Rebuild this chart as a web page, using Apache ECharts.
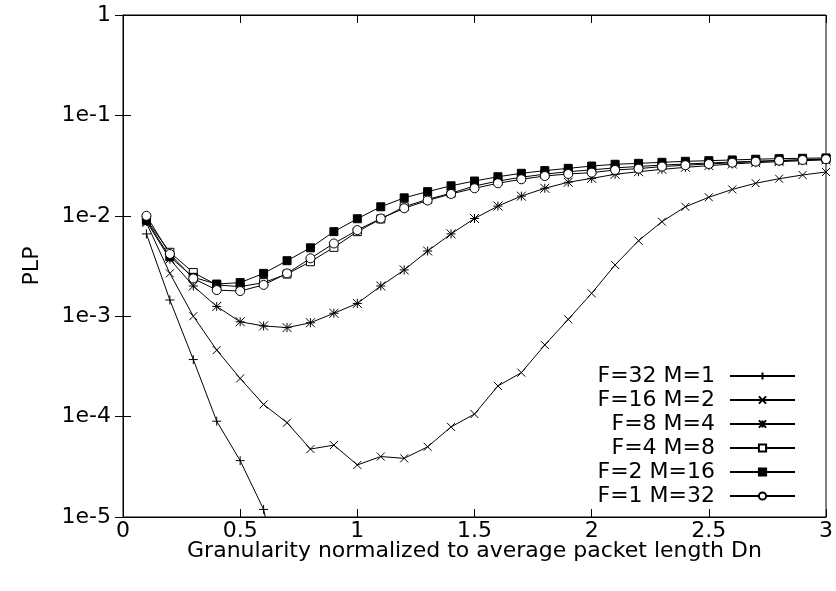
<!DOCTYPE html>
<html>
<head>
<meta charset="utf-8">
<script src="https://cdn.jsdelivr.net/npm/echarts@6/dist/echarts.min.js"></script>
<style>
html,body{margin:0;padding:0;background:#fff;}
#chart{width:836px;height:591px;}
</style>
</head>
<body>
<div id="chart"></div>
<script>
const xs = [0.1,0.2,0.3,0.4,0.5,0.6,0.7,0.8,0.9,1.0,1.1,1.2,1.3,1.4,1.5,1.6,1.7,1.8,1.9,2.0,2.1,2.2,2.3,2.4,2.5,2.6,2.7,2.8,2.9,3.0];
const seriesNames = ['F=32 M=1','F=16 M=2','F=8 M=4','F=4 M=8','F=2 M=16','F=1 M=32'];
const f32m1 = [0.0066,0.00145,0.00037,0.00009,0.0000364,0.0000119,0.000001];
const f16m2 = [0.0085,0.00267,0.00100,0.00046,0.00024,0.000132,0.000087,0.0000475,0.000052,0.000033,0.000040,0.0000384,0.000050,0.000079,0.000106,0.000202,0.000274,0.000517,0.00093,0.00169,0.00324,0.00565,0.00874,0.0123,0.0153,0.0183,0.0211,0.0234,0.0255,0.0273];
const f8m4 = [0.0088,0.0037,0.0020,0.00125,0.00088,0.00080,0.00077,0.00086,0.00107,0.00134,0.0020,0.00289,0.00446,0.0066,0.0094,0.0125,0.0157,0.0188,0.0216,0.0236,0.0259,0.0275,0.0290,0.0304,0.0316,0.0328,0.0338,0.0346,0.0354,0.0360];
const f4m8 = [0.0092,0.00433,0.00272,0.00205,0.00197,0.00216,0.00263,0.00349,0.00485,0.00695,0.0093,0.0123,0.0146,0.0168,0.0198,0.0222,0.0242,0.0260,0.0275,0.0287,0.0300,0.0310,0.0320,0.0328,0.0336,0.0343,0.0350,0.0356,0.0362,0.0368];
const f2m16 = [0.0090,0.0039,0.00244,0.00209,0.00216,0.00267,0.00357,0.0048,0.00695,0.00935,0.0123,0.0151,0.0174,0.0199,0.0222,0.0245,0.0265,0.0282,0.0297,0.0313,0.0326,0.0333,0.0341,0.0349,0.0354,0.0360,0.0366,0.0371,0.0374,0.0377];
const f1m32 = [0.0100,0.00417,0.00238,0.00182,0.00178,0.00205,0.00267,0.00377,0.0053,0.0072,0.0094,0.0119,0.0142,0.0165,0.0188,0.0211,0.0231,0.0249,0.0261,0.0269,0.0286,0.0295,0.0309,0.0319,0.0328,0.0338,0.0346,0.0354,0.0360,0.0366];
const xTickLabels = ['0','0.5','1','1.5','2','2.5','3'];

const FONT = "'DejaVu Sans', 'Liberation Sans', Arial, sans-serif";
const FS = 22;
const symbols = [
  'path://M0,5L10,5M5,0L5,10',
  'path://M0,0L10,10M0,10L10,0',
  'path://M0,5L10,5M5,0L5,10M0,0L10,10M0,10L10,0',
  'rect',
  'rect',
  'circle'
];
const symbolFills = ['#000', '#000', '#000', '#fff', '#000', '#fff'];
const symbolSizes = [9, 8, 9, 8, 8, 9];
const values = [f32m1, f16m2, f8m4, f4m8, f2m16, f1m32];

const series = values.map((vals, i) => ({
  name: seriesNames[i],
  type: 'line',
  data: vals.map((v, j) => [xs[j], v]),
  symbol: symbols[i],
  symbolSize: symbolSizes[i],
  showAllSymbol: true,
  clip: true,
  animation: false,
  lineStyle: {color: '#000', width: 1},
  itemStyle: {color: symbolFills[i], borderColor: '#000', borderWidth: 1},
  emphasis: {disabled: true}
}));

const chart = echarts.init(document.getElementById('chart'), null, {renderer: 'canvas'});
const axisLine = {show: true, lineStyle: {color: '#000', width: 1}};
chart.setOption({
  backgroundColor: '#fff',
  animation: false,
  textStyle: {fontFamily: FONT},
  grid: {left: 123, right: 10, top: 15, bottom: 74, show: true, borderColor: '#000', borderWidth: 1, containLabel: false},
  legend: {
    orient: 'vertical',
    align: 'right',
    right: 35,
    top: 359,
    itemWidth: 65,
    itemHeight: 9,
    itemGap: 0,
    selectedMode: false,
    textStyle: {fontFamily: FONT, fontSize: FS, color: '#000', lineHeight: 24, padding: [0, 10, 0, 0]},
    data: seriesNames
  },
  xAxis: [{
    type: 'value', min: 0, max: 3, interval: 0.5, position: 'bottom',
    axisLine: axisLine,
    axisTick: {show: true, inside: true, length: 8, lineStyle: {color: '#000'}},
    axisLabel: {color: '#000', fontSize: FS, fontFamily: FONT, margin: 3, formatter: v => xTickLabels[Math.round(v * 2)]},
    splitLine: {show: false},
    name: 'Granularity normalized to average packet length Dn',
    nameLocation: 'middle', nameGap: 23, nameMoveOverlap: false,
    nameTextStyle: {color: '#000', fontSize: FS, fontFamily: FONT}
  }, {
    type: 'value', min: 0, max: 3, interval: 0.5, position: 'top',
    axisLine: axisLine,
    axisTick: {show: true, inside: true, length: 8, lineStyle: {color: '#000'}},
    axisLabel: {show: false}, splitLine: {show: false}
  }],
  yAxis: [{
    type: 'log', logBase: 10, min: 0.00001, max: 1, position: 'left',
    axisLine: axisLine,
    axisTick: {show: true, inside: true, length: 8, lineStyle: {color: '#000'}},
    minorTick: {show: false},
    axisLabel: {color: '#000', fontSize: FS, fontFamily: FONT, margin: 12,
      formatter: v => { const e = Math.round(Math.log10(v)); return e === 0 ? '1' : '1e' + e; }},
    splitLine: {show: false},
    name: 'PLP', nameLocation: 'middle', nameGap: 80, nameRotate: 90, nameMoveOverlap: false,
    nameTextStyle: {color: '#000', fontSize: FS, fontFamily: FONT}
  }, {
    type: 'log', logBase: 10, min: 0.00001, max: 1, position: 'right',
    axisLine: axisLine,
    axisTick: {show: true, inside: true, length: 8, lineStyle: {color: '#000'}},
    axisLabel: {show: false}, splitLine: {show: false}
  }],
  series: series
});
</script>
</body>
</html>
